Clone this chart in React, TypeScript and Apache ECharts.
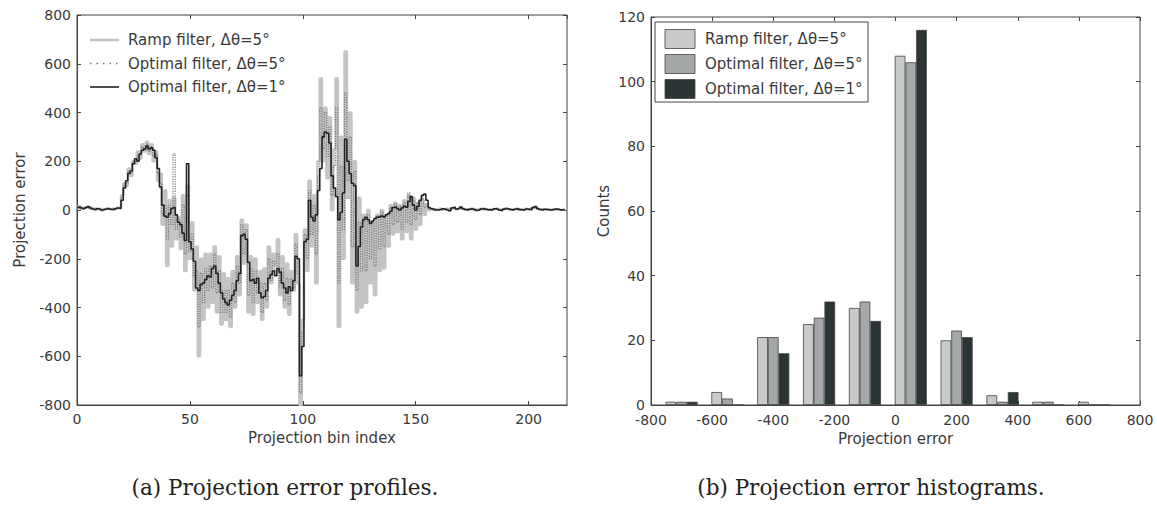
import React, { useEffect, useRef } from "react";
import * as echarts from "echarts";

// ---------- (a) Projection error profiles ----------
const seriesNames = ["Ramp filter, Δθ=5°", "Optimal filter, Δθ=5°", "Optimal filter, Δθ=1°"];

const rampProfile = [
  8, 15, 5, 8, 12, 10, 5, 8, 0, 6, 5, -2, 4, 6, 4, 2, 5, 3, 9, 10,
  60, 110, 100, 170, 140, 200, 190, 240, 210, 270, 240, 280, 230, 270, 200, 240, 120, 150, -60, 80,
  -230, 40, -150, 50, -120, -30, -160, 60, -250, 100, -200, -50, -330, -150, -600, -200, -450, -180, -400, -180,
  -380, -150, -420, -190, -470, -260, -450, -280, -480, -250, -400, -190, -350, -40, -220, -60, -420, -190, -430, -200,
  -380, -250, -450, -240, -400, -150, -300, -180, -230, -120, -350, -190, -400, -220, -430, -250, -330, -100, -300, -800,
  -450, -80, -250, 120, -150, 60, -300, 200, 540, 200, 420, 130, 380, 0, 250, 540, -480, 300, -200, 650,
  50, 400, -300, 200, -420, 50, -400, -20, -380, 0, -300, -50, -350, -20, -250, 0, -240, -30, -150, 20,
  -100, 30, -90, 20, -120, 40, -90, 60, -120, 50, -80, 30, -60, 40, -20, 20, 0, 5, 0, 3,
  3, 6, 2, 4, 5, 0, 7, 9, 3, 5, 10, 4, 3, 1, 4, 6, 0, 1, 3, 5,
  2, 4, 0, 3, 1, 4, 6, 2, 0, 4, 5, 3, 1, 2, 4, 6, 0, 3, 1, 5,
  2, 4, 9, 11, 5, 3, 2, 1, 3, 2, 1, 3, 2, 4, 0, 1, 3,
];

const opt5Profile = [
  5, 8, 12, 6, 8, 10, 12, 6, 3, 4, 6, 2, 0, 5, 5, 4, 0, 6, 6, 8,
  50, 100, 110, 160, 150, 195, 200, 220, 225, 260, 250, 270, 240, 260, 220, 230, 150, 110, -20, 20,
  -120, 20, -60, 230, -80, -40, -110, 20, -180, 60, -170, -100, -270, -250, -480, -260, -380, -240, -330, -230,
  -320, -180, -340, -250, -420, -330, -420, -330, -440, -300, -380, -230, -300, -60, -180, -80, -350, -240, -380, -250,
  -340, -300, -420, -300, -370, -200, -290, -210, -250, -180, -320, -240, -370, -280, -390, -280, -320, -140, -260, -750,
  -500, -100, -200, 80, -100, 20, -180, 140, 420, 250, 400, 220, 340, 60, 180, 420, -300, 180, -80, 480,
  120, 300, -150, 160, -330, -50, -250, -30, -250, -20, -200, -50, -230, -25, -160, -10, -150, -25, -100, 10,
  -60, 25, -50, 15, -80, 30, -50, 70, -60, 40, -40, 30, -20, 50, 10, 25, 5, 3, 0, 2,
  2, 4, 0, 6, 3, -2, 5, 12, 6, 3, 8, 7, 0, 2, 5, 3, 4, 0, 2, 6,
  4, 2, 3, 1, 0, 6, 2, 1, 0, 5, 4, 6, 0, 2, 5, 3, 4, 0, 2, 3,
  5, 0, 8, 12, 4, 3, 1, 2, 4, 0, 2, 3, 5, 1, 2, 0, 3,
];

const opt1Profile = [
  10, 12, 8, 5, 10, 14, 8, 4, 2, 5, 3, 0, 2, 4, 6, 3, 2, 5, 8, 6,
  40, 90, 120, 150, 160, 190, 210, 200, 230, 245, 250, 262, 250, 255, 245, 215, 170, 95, 20, -25,
  -30, -15, 5, 10, -20, -50, -60, -95, -125, 190, -130, -160, -210, -320, -330, -305, -300, -285, -270, -275,
  -240, -230, -260, -300, -340, -365, -380, -390, -370, -350, -330, -290, -260, -105, -100, -120, -215, -290, -285, -300,
  -280, -340, -360, -355, -330, -280, -265, -250, -270, -240, -255, -300, -320, -340, -315, -330, -290, -190, -200, -680,
  -560, -130, -120, 40, -30, -45, -20, 80, 170, 300, 320, 315, 275, 140, 90, 55, -40, -10, 70, 290,
  200, 150, 110, 100, -230, -150, -70, -40, -30, -40, -55, -45, -35, -30, -28, -25, -28, -20, -15, -5,
  10, 12, 5, 0, 8, 15, 12, 35, 55, 20, 0, 15, 40, 60, 65, 40, 10, 5, 3, 0,
  0, 2, 5, 3, 0, -3, 8, 10, 4, 6, 12, 5, 2, 0, 3, 5, 2, -2, 0, 4,
  6, 3, 1, 0, 2, 5, 4, 0, -2, 3, 6, 4, 2, 0, 3, 5, 2, 1, 0, 4,
  3, 2, 10, 14, 6, 2, 0, 3, 2, 1, 0, 2, 4, 3, 1, 0, 2,
];

// ---------- (b) Projection error histograms ----------
const binCenters = [-700, -550, -400, -250, -100, 50, 200, 350, 500, 650];
const rampCounts = [1, 4, 21, 25, 30, 108, 20, 3, 1, 1];
const opt5Counts = [1, 2, 21, 27, 32, 106, 23, 1, 1, 0];
const opt1Counts = [1, 0, 16, 32, 26, 116, 21, 4, 0, 0];

const barColors = ["#c8cacb", "#a5a8a8", "#2a3434"];
const lineColors = ["#c4c4c4", "#777777", "#222222"];
const captions = ["(a) Projection error profiles.", "(b) Projection error histograms."];

const axisFont = "DejaVu Sans";
const labelStyle = { color: "#3a3a3a", fontSize: 14, fontFamily: axisFont };
const nameStyle = { color: "#3a3a3a", fontSize: 15, fontFamily: axisFont };

const toXY = (arr: number[]) => arr.map((v, i) => [i, v]);

function mainAxis(extra: any) {
  return {
    type: "value",
    axisLine: { show: true, onZero: false, lineStyle: { color: "#444", width: 1 } },
    axisTick: { show: true, inside: true, length: 4, lineStyle: { color: "#444" } },
    splitLine: { show: false },
    axisLabel: { ...labelStyle, margin: 6 },
    nameTextStyle: nameStyle,
    nameLocation: "middle",
    ...extra,
  };
}

function ghostAxis(extra: any) {
  return {
    type: "value",
    axisLine: { show: false, onZero: false },
    axisTick: { show: true, inside: true, length: 4, lineStyle: { color: "#444" } },
    splitLine: { show: false },
    axisLabel: { show: false },
    ...extra,
  };
}

export default function App() {
  const ref = useRef<HTMLDivElement>(null);

  useEffect(() => {
    if (!ref.current) return;
    const chart = echarts.init(ref.current, undefined, { renderer: "svg" });

    // legend of (a): line samples
    const leftLegend: any[] = [];
    const lineStyles = [
      { stroke: lineColors[0], lineWidth: 2.6 },
      { stroke: lineColors[1], lineWidth: 1.6, lineDash: [1.5, 5] },
      { stroke: lineColors[2], lineWidth: 1.6 },
    ];
    seriesNames.forEach((n, i) => {
      const cy = 40 + i * 23.5;
      leftLegend.push({
        type: "line",
        shape: { x1: 90, y1: cy, x2: 119, y2: cy },
        style: lineStyles[i],
        z: 100,
      });
      leftLegend.push({
        type: "text",
        style: {
          x: 128,
          y: cy,
          text: n,
          fill: "#3a3a3a",
          font: `15px '${axisFont}'`,
          textAlign: "left",
          textVerticalAlign: "middle",
          verticalAlign: "middle",
        },
        z: 100,
      });
    });

    // legend of (b): box with swatches
    const legendX = 655;
    const legendY = 22;
    const rightLegend: any[] = [
      {
        type: "rect",
        shape: { x: legendX, y: legendY, width: 213, height: 80 },
        style: { fill: "#fff", stroke: "#444", lineWidth: 1 },
        z: 100,
      },
    ];
    seriesNames.forEach((n, i) => {
      const cy = legendY + 17 + i * 25;
      rightLegend.push({
        type: "rect",
        shape: { x: legendX + 10, y: cy - 9.5, width: 30, height: 19 },
        style: { fill: barColors[i], stroke: "#444", lineWidth: 0.8 },
        z: 101,
      });
      rightLegend.push({
        type: "text",
        style: {
          x: legendX + 50,
          y: cy,
          text: n,
          fill: "#3a3a3a",
          font: `15px '${axisFont}'`,
          textAlign: "left",
          textVerticalAlign: "middle",
          verticalAlign: "middle",
        },
        z: 101,
      });
    });

    const captionGraphics = [
      { cx: 285, text: captions[0] },
      { cx: 871, text: captions[1] },
    ].map((c) => ({
      type: "text",
      style: {
        x: c.cx,
        y: 487,
        text: c.text,
        fill: "#222",
        font: "21.5px 'DejaVu Serif'",
        textAlign: "center",
        textVerticalAlign: "middle",
        verticalAlign: "middle",
      },
    }));

    const option: any = {
      animation: false,
      backgroundColor: "#ffffff",
      textStyle: { fontFamily: axisFont },
      grid: [
        { left: 77, top: 15, width: 490, height: 390, show: true, borderColor: "#444", borderWidth: 1, backgroundColor: "transparent" },
        { left: 651, top: 17, width: 489, height: 388, show: true, borderColor: "#444", borderWidth: 1, backgroundColor: "transparent" },
      ],
      xAxis: [
        mainAxis({ gridIndex: 0, min: 0, max: 217, interval: 50, name: "Projection bin index", nameGap: 25, axisLabel: { ...labelStyle, margin: 7, showMaxLabel: false } }),
        ghostAxis({ gridIndex: 0, position: "top", min: 0, max: 217, interval: 50 }),
        mainAxis({ gridIndex: 1, min: -800, max: 800, interval: 200, name: "Projection error", nameGap: 25, axisLabel: { ...labelStyle, margin: 8 } }),
        ghostAxis({ gridIndex: 1, position: "top", min: -800, max: 800, interval: 200 }),
      ],
      yAxis: [
        mainAxis({ gridIndex: 0, min: -800, max: 800, interval: 200, name: "Projection error", nameGap: 50 }),
        ghostAxis({ gridIndex: 0, position: "right", min: -800, max: 800, interval: 200 }),
        mainAxis({ gridIndex: 1, min: 0, max: 120, interval: 20, name: "Counts", nameGap: 40 }),
        ghostAxis({ gridIndex: 1, position: "right", min: 0, max: 120, interval: 20 }),
      ],
      series: [
        {
          name: seriesNames[0],
          type: "line",
          xAxisIndex: 0,
          yAxisIndex: 0,
          step: "middle",
          symbol: "none",
          data: toXY(rampProfile),
          lineStyle: { color: lineColors[0], width: 2.6 },
          itemStyle: { color: lineColors[0] },
          z: 2,
        },
        {
          name: seriesNames[1],
          type: "line",
          xAxisIndex: 0,
          yAxisIndex: 0,
          step: "middle",
          symbol: "none",
          data: toXY(opt5Profile),
          lineStyle: { color: lineColors[1], width: 1.2, type: "dotted" },
          itemStyle: { color: lineColors[1] },
          z: 3,
        },
        {
          name: seriesNames[2],
          type: "line",
          xAxisIndex: 0,
          yAxisIndex: 0,
          step: "middle",
          symbol: "none",
          data: toXY(opt1Profile),
          lineStyle: { color: lineColors[2], width: 1.6 },
          itemStyle: { color: lineColors[2] },
          z: 4,
        },
        ...[rampCounts, opt5Counts, opt1Counts].map((counts, i) => ({
          name: seriesNames[i] + " (hist)",
          type: "bar",
          xAxisIndex: 2,
          yAxisIndex: 2,
          barWidth: 10.7,
          barGap: "0%",
          data: binCenters.map((c, j) => [c, counts[j]]),
          itemStyle: { color: barColors[i], borderColor: "#444", borderWidth: 0.8 },
        })),
      ],
      graphic: [...leftLegend, ...rightLegend, ...captionGraphics],
    };

    chart.setOption(option);
    return () => chart.dispose();
  }, []);

  return (
    <div
      ref={ref}
      style={{ position: "fixed", left: 0, top: 0, width: 1157, height: 507, background: "#fff" }}
    />
  );
}
